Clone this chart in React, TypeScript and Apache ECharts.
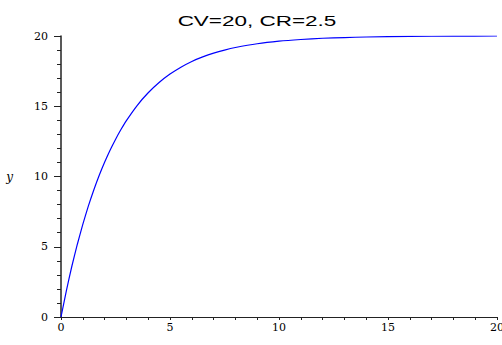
import React, { useEffect, useRef } from "react";
import * as echarts from "echarts";

const titleText = "CV=20, CR=2.5";
const tValues = [0, 0.25, 0.5, 0.75, 1, 1.25, 1.5, 1.75, 2, 2.25, 2.5, 2.75, 3, 3.5, 4, 4.5, 5, 5.5, 6, 6.5, 7, 7.5, 8, 9, 10, 11, 12, 13, 14, 16, 18, 20];
const yValues = [0, 1.9, 3.63, 5.18, 6.59, 7.87, 9.02, 10.07, 11.01, 11.87, 12.64, 13.34, 13.98, 15.07, 15.96, 16.69, 17.29, 17.78, 18.19, 18.51, 18.78, 19.0, 19.18, 19.45, 19.63, 19.75, 19.84, 19.89, 19.93, 19.97, 19.99, 20.0];
const xTicks = [0, 5, 10, 15, 20];
const yTicks = [0, 5, 10, 15, 20];

export default function App() {
  const ref = useRef<HTMLDivElement>(null);
  useEffect(() => {
    if (!ref.current) return;
    const chart = echarts.init(ref.current, null, { renderer: "svg" });
    const data = tValues.map((t, i) => [t, yValues[i]]);
    const labelFont = { fontFamily: "DejaVu Serif", fontSize: 11, color: "#000" };
    chart.setOption({
      animation: false,
      backgroundColor: "#fff",
      graphic: [
        {
          type: "text",
          x: 257,
          y: 21,
          scaleX: 1.5,
          style: {
            text: titleText,
            font: "15px 'Liberation Sans'",
            fill: "#000",
            textAlign: "center",
            textVerticalAlign: "middle",
          },
        },
      ],
      grid: { left: 61, right: 5, top: 36, bottom: 28, containLabel: false, outerBoundsMode: "none" },
      xAxis: {
        type: "value",
        min: xTicks[0],
        max: xTicks[xTicks.length - 1],
        interval: 5,
        name: "t",
        nameLocation: "middle",
        nameGap: 29,
        nameTextStyle: { fontFamily: "DejaVu Serif", fontStyle: "italic", fontSize: 12, color: "#000" },
        axisLine: { show: true, lineStyle: { color: "#222", width: 1 } },
        axisTick: { show: true, length: 3, lineStyle: { color: "#222" } },
        minorTick: { show: true, splitNumber: 5, length: 3, lineStyle: { color: "#222" } },
        axisLabel: { ...labelFont, margin: 5 },
        splitLine: { show: false },
      },
      yAxis: {
        type: "value",
        min: yTicks[0],
        max: yTicks[yTicks.length - 1],
        interval: 5,
        name: "y",
        nameLocation: "middle",
        nameRotate: 0,
        nameGap: 48,
        nameTextStyle: { fontFamily: "DejaVu Serif", fontStyle: "italic", fontSize: 12, color: "#000" },
        axisLine: { show: true, lineStyle: { color: "#222", width: 1.5 } },
        axisTick: { show: true, length: 7, lineStyle: { color: "#222" } },
        minorTick: { show: true, splitNumber: 5, length: 4, lineStyle: { color: "#222" } },
        axisLabel: { ...labelFont, margin: 13 },
        splitLine: { show: false },
      },
      series: [
        {
          type: "line",
          data,
          smooth: 0.2,
          showSymbol: false,
          lineStyle: { color: "#0000ff", width: 1.2 },
        },
      ],
    });
    return () => chart.dispose();
  }, []);
  return <div ref={ref} style={{ position: "fixed", left: 0, top: 0, width: 502, height: 345 }} />;
}
